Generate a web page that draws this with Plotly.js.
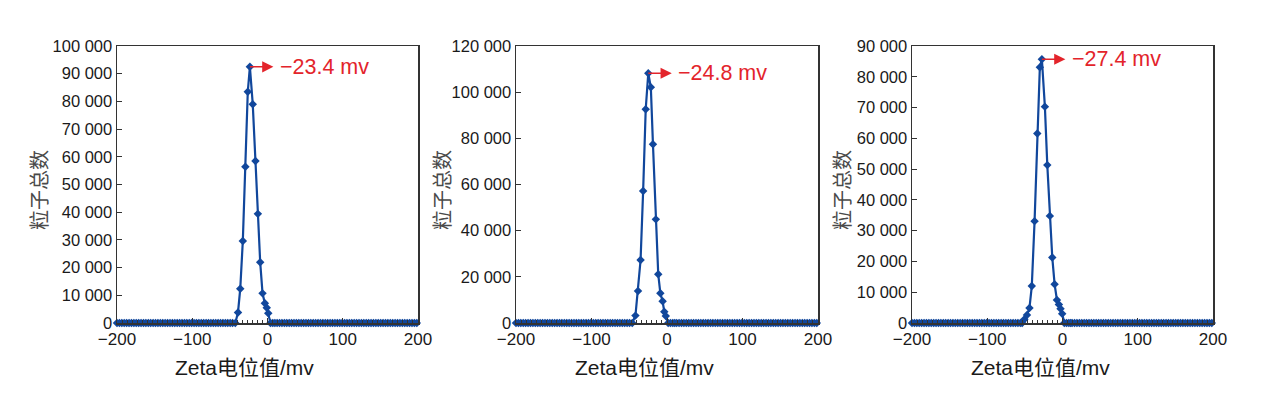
<!DOCTYPE html>
<html>
<head>
<meta charset="utf-8">
<script src="https://cdn.plot.ly/plotly-3.0.1.min.js"></script>
<style>
html,body{margin:0;padding:0;background:#fff;}
#chart{width:1270px;height:394px;}
</style>
</head>
<body>
<div id="chart"></div>
<script>
// ---- data ----
const baseLeftX = [-200,-196.8,-193.6,-190.4,-187.2,-184,-180.8,-177.6,-174.4,-171.2,
  -168,-164.8,-161.6,-158.4,-155.2,-152,-148.8,-145.6,-142.4,-139.2,
  -136,-132.8,-129.6,-126.4,-123.2,-120,-116.8,-113.6,-110.4,-107.2,
  -104,-100.8,-97.6,-94.4,-91.2,-88,-84.8,-81.6,-78.4,-75.2,
  -72,-68.8,-65.6,-62.4,-59.2,-56];
const baseLeftY = [0,0,0,0,0,0,0,0,0,0,
  0,0,0,0,0,0,0,0,0,0,
  0,0,0,0,0,0,0,0,0,0,
  0,0,0,0,0,0,0,0,0,0,
  0,0,0,0,0,0];
const baseRightX = [12.8,16,19.2,22.4,25.6,28.8,32,35.2,38.4,41.6,
  44.8,48,51.2,54.4,57.6,60.8,64,67.2,70.4,73.6,
  76.8,80,83.2,86.4,89.6,92.8,96,99.2,102.4,105.6,
  108.8,112,115.2,118.4,121.6,124.8,128,131.2,134.4,137.6,
  140.8,144,147.2,150.4,153.6,156.8,160,163.2,166.4,169.6,
  172.8,176,179.2,182.4,185.6,188.8,192,195.2,198.4];
const baseRightY = [0,0,0,0,0,0,0,0,0,0,
  0,0,0,0,0,0,0,0,0,0,
  0,0,0,0,0,0,0,0,0,0,
  0,0,0,0,0,0,0,0,0,0,
  0,0,0,0,0,0,0,0,0,0,
  0,0,0,0,0,0,0,0,0];

const peak1X = [-52.8,-49.6,-46.4,-42.8,-39.2,-36.2,-32.8,-29.4,-26.2,-23.4,-19.6,-16.0,-12.8,-9.7,-6.6,-3.5,-1.0,1.0,4.0,7.0,9.8];
const peak1Y = [0,0,0,0,3800,12400,29600,56400,83500,92500,79000,58500,39400,21900,10700,7100,5500,3500,0,0,0];
const peak2X = [-52.8,-49.6,-46.0,-41.8,-38.4,-35.0,-31.6,-28.2,-24.8,-21.4,-18.6,-14.8,-11.6,-8.8,-5.8,-3.6,-1.6,1.6,4.6,7.6,10.2];
const peak2Y = [0,0,0,3200,13900,27300,57200,92600,108200,102100,77400,44900,21100,12900,9400,4900,3000,0,0,0,0];
const peak3X = [-53.6,-50.6,-47.2,-43.9,-40.8,-37.1,-33.5,-30.1,-27.4,-23.4,-20.2,-16.8,-13.6,-10.5,-7.4,-4.8,-2.6,-0.4,2.4,5.4,8.4,10.8];
const peak3Y = [0,1200,2600,4900,12000,33100,61600,83100,85700,70300,51300,34800,21300,12600,7500,6000,4600,3000,0,0,0,0];

const peakLabels = ['\u221223.4 mv', '\u221224.8 mv', '\u221227.4 mv'];
const peakPosX = [-23.4, -24.8, -27.4];
const peakPosY = [92500, 108200, 85700];

const xTickVals = [-200, -100, 0, 100, 200];
const y1TickVals = [0,10000,20000,30000,40000,50000,60000,70000,80000,90000,100000];
const y1TickText = ['0','10 000','20 000','30 000','40 000','50 000','60 000','70 000','80 000','90 000','100 000'];
const y2TickVals = [0,20000,40000,60000,80000,100000,120000];
const y2TickText = ['0','20 000','40 000','60 000','80 000','100 000','120 000'];
const y3TickVals = [0,10000,20000,30000,40000,50000,60000,70000,80000,90000];
const y3TickText = ['0','10 000','20 000','30 000','40 000','50 000','60 000','70 000','80 000','90 000'];

const xTitle = 'Zeta电位值/mv';
const yTitle = '粒子总数';

// ---- styles ----
const blue = '#11479c';
const red = '#e3242b';
const textFont = 'Liberation Sans, Arial, sans-serif';
const cjkFont = 'Liberation Sans, Noto Sans CJK SC, sans-serif';

function mkTrace(px, py, xa, ya) {
  return {
    x: baseLeftX.concat(px, baseRightX),
    y: baseLeftY.concat(py, baseRightY),
    xaxis: xa, yaxis: ya,
    type: 'scatter', mode: 'lines+markers',
    line: {color: blue, width: 2.2},
    marker: {color: blue, size: 6.5, symbol: 'diamond'},
    cliponaxis: false,
    showlegend: false, hoverinfo: 'skip'
  };
}

const traces = [
  mkTrace(peak1X, peak1Y, 'x', 'y'),
  mkTrace(peak2X, peak2Y, 'x2', 'y2'),
  mkTrace(peak3X, peak3Y, 'x3', 'y3')
];

const W = 1270, H = 394;
const xDom = [[117, 418], [516, 818], [912, 1213]];
const yDom = [1 - 323 / H, 1 - 46 / H];
const xTitlePos = [244, 644, 1040];
const yTitlePos = [38, 441, 841];

function xAxis(i) {
  return {
    domain: [xDom[i][0] / W, xDom[i][1] / W],
    anchor: i === 0 ? 'y' : 'y' + (i + 1),
    range: [-200, 200],
    tickvals: xTickVals,
    ticks: 'inside', ticklen: 5, tickwidth: 1, tickcolor: '#333',
    minor: {ticks: 'inside', ticklen: 3, tickwidth: 1, tickcolor: '#333', dtick: 20 / 3, tick0: 0, showgrid: false},
    showline: true, mirror: true, linecolor: '#333', linewidth: 1.5,
    showgrid: false, zeroline: false,
    tickfont: {family: textFont, size: 17, color: '#1a1a1a'},
    automargin: false
  };
}
function yAxis(i, vals, text, maxv) {
  return {
    domain: yDom,
    anchor: i === 0 ? 'x' : 'x' + (i + 1),
    range: [0, maxv],
    tickvals: vals, ticktext: text,
    ticks: 'inside', ticklen: 5, tickwidth: 1, tickcolor: '#333',
    showline: true, mirror: true, linecolor: '#333', linewidth: 1.5,
    showgrid: false, zeroline: false,
    tickfont: {family: textFont, size: 16.5, color: '#1a1a1a'},
    automargin: false
  };
}

const annotations = [];
for (let i = 0; i < 3; i++) {
  const xr = i === 0 ? 'x' : 'x' + (i + 1);
  const yr = i === 0 ? 'y' : 'y' + (i + 1);
  annotations.push({
    x: peakPosX[i], y: peakPosY[i], xref: xr, yref: yr,
    text: '', showarrow: true, ax: 25, ay: 0,
    arrowside: 'start', startarrowhead: 2, startarrowsize: 1.6,
    arrowwidth: 1.4, arrowcolor: red,
    standoff: 0, startstandoff: 0
  });
  annotations.push({
    x: peakPosX[i], y: peakPosY[i], xref: xr, yref: yr,
    text: peakLabels[i], showarrow: false,
    xanchor: 'left', yanchor: 'middle', xshift: 28, yshift: 0,
    font: {family: textFont, size: 21.5, color: red}
  });
  // x-axis title
  annotations.push({
    xref: 'paper', yref: 'paper',
    x: xTitlePos[i] / W, y: 1 - 367 / H,
    xanchor: 'center', yanchor: 'middle', showarrow: false,
    text: xTitle,
    font: {family: cjkFont, size: 21, color: '#1a1a1a'}
  });
  // y-axis title
  annotations.push({
    xref: 'paper', yref: 'paper',
    x: yTitlePos[i] / W, y: 1 - 190 / H,
    xanchor: 'center', yanchor: 'middle', showarrow: false,
    textangle: -90,
    text: yTitle,
    font: {family: 'Noto Sans CJK SC, sans-serif', size: 20, color: '#4a4a4a'}
  });
}

const layout = {
  width: W, height: H,
  margin: {l: 0, r: 0, t: 0, b: 0},
  paper_bgcolor: '#fff', plot_bgcolor: '#fff',
  showlegend: false,
  xaxis: xAxis(0), xaxis2: xAxis(1), xaxis3: xAxis(2),
  yaxis: yAxis(0, y1TickVals, y1TickText, 100000),
  yaxis2: yAxis(1, y2TickVals, y2TickText, 120000),
  yaxis3: yAxis(2, y3TickVals, y3TickText, 90000),
  annotations: annotations
};

Plotly.newPlot('chart', traces, layout, {staticPlot: true, displayModeBar: false});
</script>
</body>
</html>
